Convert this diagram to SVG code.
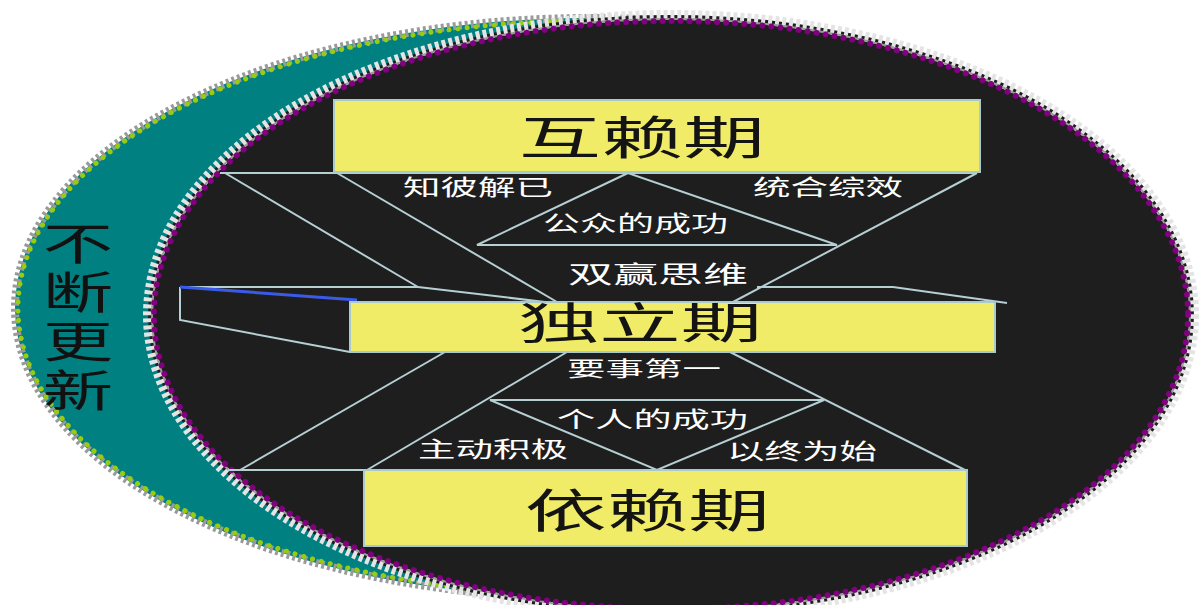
<svg xmlns="http://www.w3.org/2000/svg" width="1199" height="605" viewBox="0 0 1199 605">
<style>
.lbl{font-family:"Noto Sans CJK SC","Noto Sans",sans-serif;font-size:22px;fill:#ffffff;dominant-baseline:central}
.big{font-family:"Noto Sans CJK SC","Noto Sans",sans-serif;font-size:46px;fill:#141414;dominant-baseline:central}
.side{font-family:"Noto Sans CJK SC","Noto Sans",sans-serif;font-size:44px;fill:#111;letter-spacing:5px}
.box{fill:#f0ec68;stroke:#a9c9cc;stroke-width:2}
.ln{stroke:#b5cfd3;stroke-width:2;fill:none}
</style>
<rect width="1199" height="605" fill="#ffffff"/>
<g id="rings">
<ellipse cx="590" cy="308" rx="575" ry="290" fill="#008080" stroke="#9a9a9a" stroke-width="8" stroke-dasharray="3 3"/>
<ellipse cx="590" cy="308" rx="572" ry="287" fill="none" stroke="#99cc11" stroke-width="5" stroke-dasharray="0.1 9" stroke-linecap="round"/>
<ellipse cx="671" cy="315" rx="523" ry="300" fill="#1e1e1e" stroke="#e4e4e4" stroke-width="10" stroke-dasharray="4 3"/>
<ellipse cx="671" cy="315" rx="519" ry="296" fill="none" stroke="#9a9a9a" stroke-width="2"/>
<ellipse cx="671" cy="315" rx="517" ry="294" fill="none" stroke="#800080" stroke-width="6" stroke-dasharray="0.1 9" stroke-linecap="round"/>
</g>
<g id="connectors">
<line class="ln" x1="220" y1="173" x2="977" y2="173"/>
<line class="ln" x1="225" y1="173" x2="418" y2="287"/>
<line class="ln" x1="337" y1="173" x2="557" y2="302"/>
<line class="ln" x1="977" y1="173" x2="733" y2="302"/>
<polygon class="ln" points="628,173 477,245 837,245"/>
<polyline class="ln" points="180,287 418,287 545,302"/>
<polyline class="ln" points="180,287 180,320 350,352"/>
<line x1="180" y1="287" x2="357" y2="300" stroke="#3a5ae8" stroke-width="3"/>
<polyline class="ln" points="757,287 893,287 1007,303"/>
<line class="ln" x1="228" y1="470" x2="965" y2="470"/>
<line class="ln" x1="445" y1="352" x2="240" y2="470"/>
<line class="ln" x1="567" y1="352" x2="367" y2="470"/>
<line class="ln" x1="730" y1="352" x2="965" y2="470"/>
<polygon class="ln" points="490,400 824,400 657,470"/>
</g>
<g id="node-hulai">
<rect class="box" x="334" y="100" width="646" height="72"/>
<text class="big" x="519" y="134" textLength="246" lengthAdjust="spacingAndGlyphs">互赖期</text>
</g>
<g id="node-duli">
<rect class="box" x="350" y="302" width="645" height="50"/>
<text class="big" x="518" y="320" textLength="244" lengthAdjust="spacingAndGlyphs" style="font-size:43px">独立期</text>
</g>
<g id="node-yilai">
<rect class="box" x="364" y="470" width="603" height="76"/>
<text class="big" x="525" y="507" textLength="245" lengthAdjust="spacingAndGlyphs">依赖期</text>
</g>
<g id="labels">
<text class="lbl" x="403" y="185" textLength="150" lengthAdjust="spacingAndGlyphs">知彼解已</text>
<text class="lbl" x="753" y="185" textLength="150" lengthAdjust="spacingAndGlyphs">统合综效</text>
<text class="lbl" x="543" y="221" textLength="185" lengthAdjust="spacingAndGlyphs">公众的成功</text>
<text class="lbl" x="568" y="272" textLength="180" lengthAdjust="spacingAndGlyphs" style="font-size:24px">双赢思维</text>
<text class="lbl" x="567" y="367" textLength="154" lengthAdjust="spacingAndGlyphs" style="font-size:21px">要事第一</text>
<text class="lbl" x="557" y="417" textLength="191" lengthAdjust="spacingAndGlyphs">个人的成功</text>
<text class="lbl" x="418" y="447" textLength="150" lengthAdjust="spacingAndGlyphs">主动积极</text>
<text class="lbl" x="727" y="449" textLength="150" lengthAdjust="spacingAndGlyphs">以终为始</text>
</g>
<g id="node-side" transform="translate(78,0) scale(1.6,1)">
<text class="side" x="0" y="221" writing-mode="tb">不断更新</text>
</g>
</svg>
